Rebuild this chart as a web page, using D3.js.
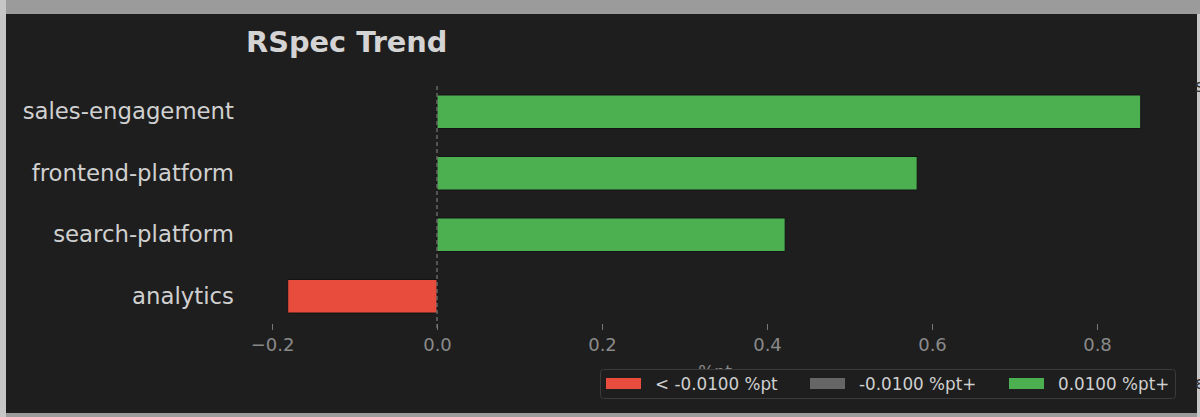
<!DOCTYPE html>
<html>
<head>
<meta charset="utf-8">
<script src="https://cdn.jsdelivr.net/npm/d3@7"></script>
<style>
  html, body { margin: 0; padding: 0; background: #9b9b9b; }
  svg { display: block; }
  text { font-family: "DejaVu Sans", sans-serif; }
</style>
</head>
<body>
<svg id="chart" width="1200" height="417"></svg>
<script>
// ---- data ----
const categories = ["sales-engagement", "frontend-platform", "search-platform", "analytics"];
const values = [0.853, 0.582, 0.422, -0.181];
const xTicks = [-0.2, 0.0, 0.2, 0.4, 0.6, 0.8];
const legendLabels = ["< -0.0100 %pt", "-0.0100 %pt+", "0.0100 %pt+"];
const legendColors = ["#e74c3c", "#666666", "#4caf50"];
const threshold = 0.01;
const titleText = "RSpec Trend";
const xLabelText = "%pt";

const svg = d3.select("#chart");

// frame
svg.append("rect").attr("x", 0).attr("y", 0).attr("width", 1200).attr("height", 417).attr("fill", "#9b9b9b");
svg.append("rect").attr("x", 0).attr("y", 0).attr("width", 6).attr("height", 417).attr("fill", "#c6c6c6");
svg.append("rect").attr("x", 1197).attr("y", 14).attr("width", 3).attr("height", 403).attr("fill", "#c8c8c8");
svg.append("rect").attr("x", 6).attr("y", 14).attr("width", 1191).attr("height", 399).attr("fill", "#1e1e1e");
svg.append("text").attr("x", 1195).attr("y", 92).attr("font-size", 17).attr("fill", "#333").text("s");
svg.append("text").attr("x", 1195).attr("y", 389).attr("font-size", 17).attr("fill", "#333").text("ε");

// scales
const x = d3.scaleLinear().domain([-0.2, 0.8]).range([272, 1097]);
const y = d3.scaleBand().domain(categories).range([67, 341]).paddingInner(0.455).paddingOuter(0.455);

const colorFor = v => v < -threshold ? legendColors[0] : (v >= threshold ? legendColors[2] : legendColors[1]);

// title
svg.append("text")
  .attr("x", 246).attr("y", 52)
  .attr("font-size", 28.8).attr("font-weight", "bold")
  .attr("fill", "#d4d4d4")
  .text(titleText);

// bars
svg.append("g").selectAll("rect")
  .data(categories)
  .join("rect")
  .attr("x", (d, i) => x(Math.min(0, values[i])))
  .attr("y", d => y(d))
  .attr("width", (d, i) => Math.abs(x(values[i]) - x(0)))
  .attr("height", y.bandwidth())
  .attr("fill", (d, i) => colorFor(values[i]))
  .attr("stroke", "#151515")
  .attr("stroke-width", 1);

// zero line
svg.append("line")
  .attr("x1", x(0)).attr("x2", x(0))
  .attr("y1", 86).attr("y2", 330)
  .attr("stroke", "#7a7a7a").attr("stroke-width", 1.2)
  .attr("stroke-dasharray", "4,3");

// x axis
const xAxis = d3.axisBottom(x).tickValues(xTicks).tickFormat(d3.format(".1f")).tickSize(6).tickPadding(8);
const gx = svg.append("g").attr("transform", "translate(0,324)").call(xAxis);
gx.select(".domain").remove();
gx.selectAll(".tick line").attr("stroke", "#777").attr("stroke-width", 1);
gx.selectAll(".tick text").attr("fill", "#8a8a8a").attr("font-size", 18).attr("font-family", "DejaVu Sans, sans-serif");

// y axis labels
const yAxis = d3.axisLeft(y).tickSize(0).tickPadding(0);
const gy = svg.append("g").attr("transform", "translate(234,0)").call(yAxis);
gy.select(".domain").remove();
gy.selectAll(".tick text").attr("fill", "#d0d0d0").attr("font-size", 22.8).attr("font-family", "DejaVu Sans, sans-serif");

// x label
svg.append("text")
  .attr("x", 715).attr("y", 378)
  .attr("text-anchor", "middle")
  .attr("font-size", 17).attr("fill", "#8a8a8a")
  .text(xLabelText);

// legend
const lg = svg.append("g");
lg.append("rect")
  .attr("x", 600.5).attr("y", 369.5).attr("width", 575).attr("height", 29)
  .attr("rx", 3).attr("fill", "#1e1e1e").attr("stroke", "#3a3a3a").attr("stroke-width", 1);
const swatchX = [606, 810, 1009];
const entries = lg.selectAll("g.entry").data(legendLabels).join("g").attr("class", "entry");
entries.append("rect")
  .attr("x", (d, i) => swatchX[i]).attr("y", 378)
  .attr("width", 35).attr("height", 11)
  .attr("fill", (d, i) => legendColors[i]);
entries.append("text")
  .attr("x", (d, i) => swatchX[i] + 49).attr("y", 390)
  .attr("font-size", 16.8).attr("fill", "#d0d0d0")
  .text(d => d);
</script>
</body>
</html>
